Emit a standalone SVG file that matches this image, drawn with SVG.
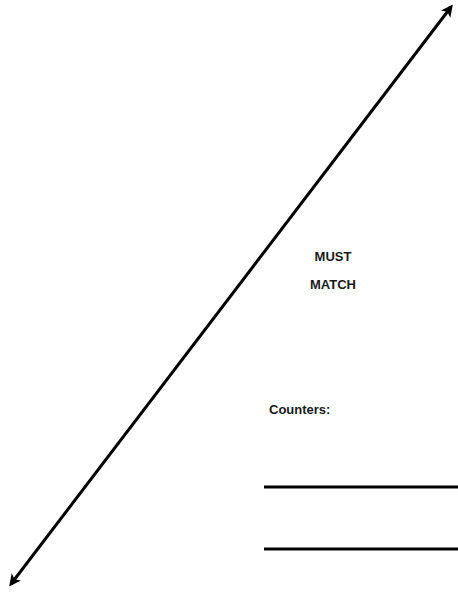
<svg xmlns="http://www.w3.org/2000/svg" width="458" height="592" viewBox="0 0 458 592">
<defs>
<marker id="ah" markerWidth="13" markerHeight="12" refX="9" refY="6" orient="auto-start-reverse" markerUnits="userSpaceOnUse">
<path d="M0,0 L12,6 L0,12 L3,6 Z" fill="#000"/>
</marker>
<style>
.t{font-family:"Liberation Sans",Arial,sans-serif;font-weight:bold;font-size:13px;fill:#1a1a1a}
.ln{stroke:#000;stroke-width:3}
</style>
</defs>
<rect width="458" height="592" fill="#fff"/>
<g id="connectors">
<line x1="11" y1="584" x2="451" y2="7" stroke="#000" stroke-width="3" marker-start="url(#ah)" marker-end="url(#ah)"/>
</g>
<g id="label-must-match">
<text class="t" x="333" y="261" text-anchor="middle">MUST</text>
<text class="t" x="333" y="289" text-anchor="middle">MATCH</text>
</g>
<g id="counters">
<text class="t" x="269" y="414">Counters:</text>
<line class="ln" x1="264" y1="487" x2="458" y2="487"/>
<line class="ln" x1="264" y1="549" x2="458" y2="549"/>
</g>
</svg>
